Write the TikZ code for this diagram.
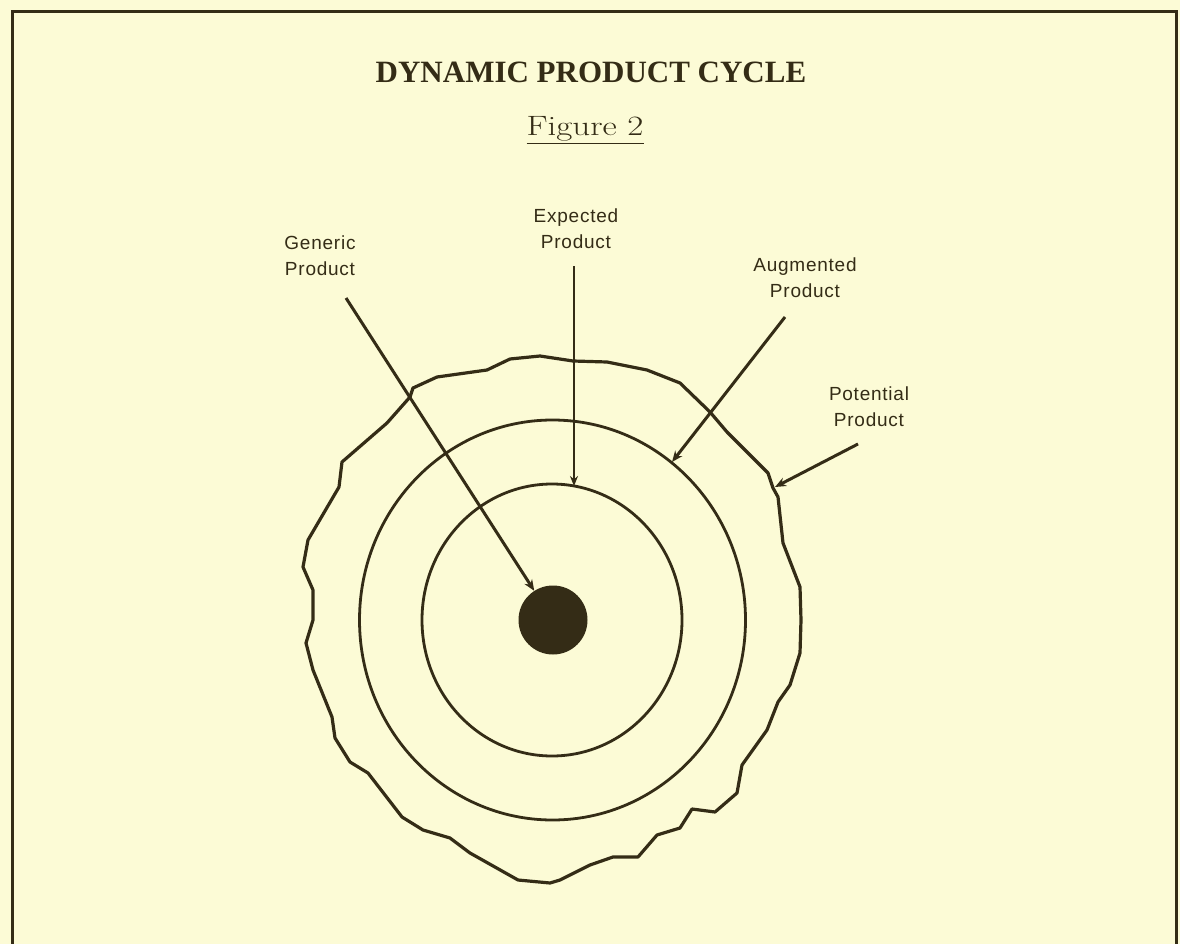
\documentclass[tikz,border=0pt]{standalone}
\usepackage{fontspec}
\newfontfamily\labelfont[LetterSpace=4]{Liberation Sans}
\newfontfamily\titlefont{Liberation Serif}
\usetikzlibrary{arrows.meta}
\definecolor{paper}{RGB}{252,251,214}
\definecolor{ink}{RGB}{52,44,22}
\begin{document}
\begin{tikzpicture}[x=1pt,y=-1pt,
  ring/.style={draw=ink,line width=2.8pt},
  wavy/.style={draw=ink,line width=3.2pt,line join=round},
  lbl/.style={font=\labelfont\fontsize{19}{26}\selectfont,text=ink,align=center,inner sep=0pt},
  pointer/.style={draw=ink,line width=3pt,-{Stealth[length=11pt,width=9pt]}},
  thinpointer/.style={draw=ink,line width=2pt,-{Stealth[length=10pt,width=8pt]}},
]
\fill[paper] (0,0) rectangle (1180,944);
\useasboundingbox (0,0) rectangle (1180,944);
\draw[ink,line width=3pt] (12,944) -- (12,12) -- (1176,12) -- (1176,944);

\node[text=ink,font=\titlefont\fontsize{31}{34}\selectfont\bfseries] (title) at (591,72) {DYNAMIC PRODUCT CYCLE};
\node[text=ink,font=\fontsize{28}{32}\selectfont] (fig) at (585,130) {\scalebox{1.25}[1]{\underline{Figure 2}}};

% outer (potential) boundary
\draw[wavy] (540,356) -- (573,361) -- (607,362) -- (647,370) -- (680,383) -- (710,412) -- (727,432)
  -- (768,473) -- (773,488) -- (778,497) -- (783,543) -- (800,587) -- (801,620) -- (800,653)
  -- (790,685) -- (778,702) -- (767,730) -- (742,765) -- (737,793) -- (715,812) -- (692,809)
  -- (680,828) -- (657,835) -- (638,857) -- (613,857) -- (590,865) -- (560,880) -- (550,883)
  -- (518,880) -- (470,853) -- (450,838) -- (423,830) -- (402,817) -- (368,773) -- (350,762)
  -- (335,738) -- (332,717) -- (313,670) -- (306,643) -- (313,620) -- (313,590) -- (303,567)
  -- (308,540) -- (339,487) -- (342,462) -- (387,423) -- (410,397) -- (413,388) -- (437,377)
  -- (487,370) -- (510,359) -- cycle;

\draw[ring] (552.5,620) ellipse [x radius=193pt, y radius=200pt];
\draw[ring] (552,620) ellipse [x radius=130pt, y radius=136pt];
\node[circle,fill=ink,minimum size=69pt,inner sep=0pt] (core) at (553,620) {};

\node[lbl] (gen) at (320,256) {Generic\\Product};
\node[lbl] (exp) at (576,229) {Expected\\Product};
\node[lbl] (aug) at (805,278) {Augmented\\Product};
\node[lbl] (pot) at (869,407) {Potential\\Product};

\coordinate (genS) at (346,298);
\coordinate (expS) at (574,266);
\coordinate (expT) at (574,486);
\coordinate (augS) at (785,317);
\coordinate (augT) at (672,462);
\coordinate (potS) at (858,444);
\coordinate (potT) at (775,487);

\draw[pointer] (genS) -- (core);
\draw[thinpointer] (expS) -- (expT);
\draw[pointer] (augS) -- (augT);
\draw[pointer] (potS) -- (potT);
\end{tikzpicture}
\end{document}
